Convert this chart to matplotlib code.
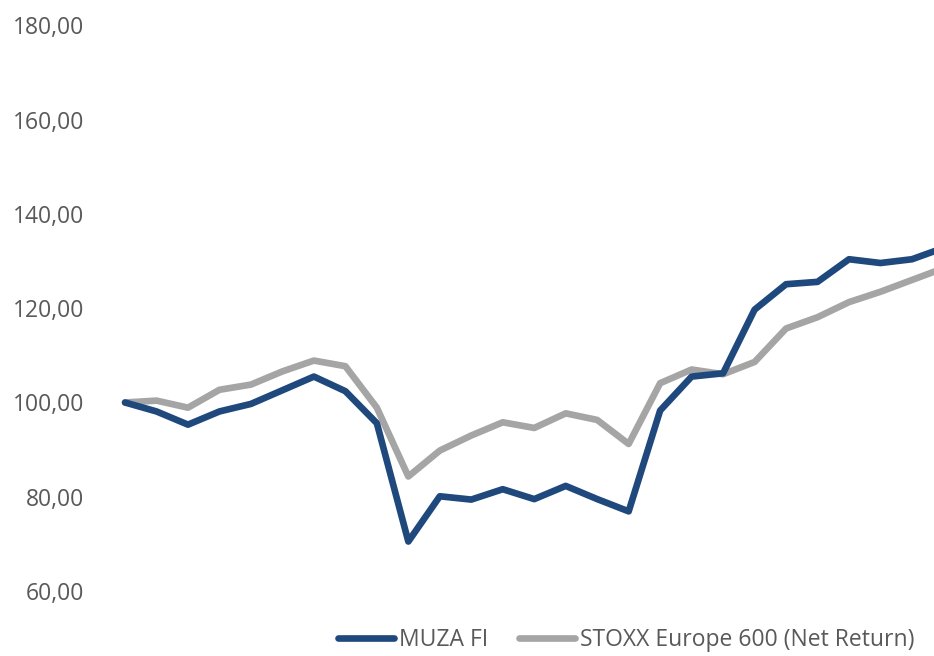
import matplotlib
matplotlib.use("Agg")
import matplotlib.pyplot as plt
from matplotlib.ticker import FuncFormatter

# --- data (index = period) ---
muza = [100.0, 98.1, 95.3, 98.1, 99.7, 102.6, 105.5, 102.4, 95.6, 70.5,
        80.1, 79.4, 81.6, 79.5, 82.3, 79.5, 76.9, 98.3, 105.5, 106.2,
        119.7, 125.1, 125.6, 130.4, 129.6, 130.4, 132.8]
stoxx = [100.0, 100.4, 98.9, 102.7, 103.8, 106.6, 108.9, 107.7, 98.9, 84.3,
         89.8, 93.0, 95.8, 94.6, 97.7, 96.3, 91.2, 104.1, 107.0, 106.0,
         108.6, 115.7, 118.1, 121.3, 123.5, 126.0, 128.5]
periods = list(range(len(muza)))
y_ticks = [60, 80, 100, 120, 140, 160, 180]

BLUE = '#1F497D'
GREY = '#A5A5A5'
TEXT = '#595959'
FONT = ['Open Sans', 'DejaVu Sans']

plt.rcParams['font.family'] = FONT

W, H = 934, 656
fig = plt.figure(figsize=(W / 100, H / 100), dpi=100, facecolor='white')
# axes placed in pixels: left 109.3, right 934, top 25.5, bottom 591
ax = fig.add_axes([109.3 / W, (H - 591) / H, (934 - 109.3) / W, (591 - 25.5) / H])

ax.plot(periods, muza, color=BLUE, lw=4.8, solid_joinstyle='round',
        solid_capstyle='round', label='MUZA FI', zorder=3)
ax.plot(periods, stoxx, color=GREY, lw=4.8, solid_joinstyle='round',
        solid_capstyle='round', label='STOXX Europe 600 (Net Return)', zorder=2)

ax.set_xlim(-0.5, 25.7)
ax.set_ylim(60, 180)
ax.set_yticks(y_ticks)
ax.yaxis.set_major_formatter(FuncFormatter(lambda v, p: f"{v:.2f}".replace('.', ',')))
ax.set_xticks([])
ax.tick_params(axis='y', length=0, pad=18, labelsize=16.5, labelcolor=TEXT)
for s in ax.spines.values():
    s.set_visible(False)

leg = fig.legend(loc='center', bbox_to_anchor=(0.6705, 16 / H), ncol=2,
                 frameon=False, fontsize=16.5, handlelength=2.45,
                 handletextpad=0.2, columnspacing=1.35, borderaxespad=0)
for t in leg.get_texts():
    t.set_color(TEXT)

fig.savefig('out.png', dpi=100, facecolor='white')
